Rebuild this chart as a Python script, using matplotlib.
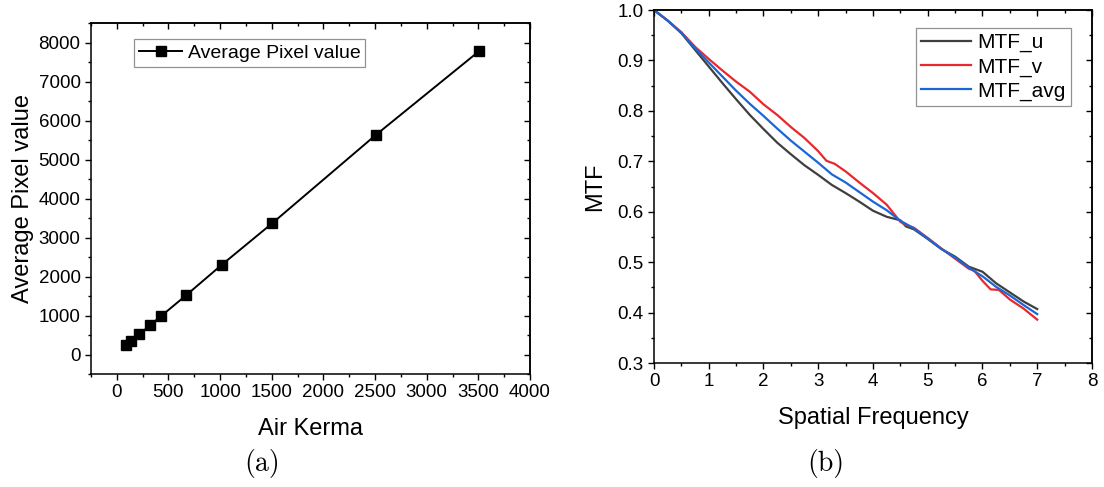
import matplotlib
matplotlib.use("Agg")
import matplotlib.pyplot as plt
from matplotlib.ticker import MultipleLocator, FormatStrFormatter

plt.rcParams['font.family'] = ['Liberation Sans', 'DejaVu Sans']

# ---------------- data (a) ----------------
air_kerma = [93, 141, 217, 320, 424, 671, 1015, 1505, 2505, 3505]
avg_pixel = [254, 346, 517, 746, 975, 1519, 2298, 3367, 5625, 7775]

# ---------------- data (b) ----------------
f_u = [0, 0.25, 0.5, 0.75, 1.0, 1.25, 1.5, 1.75, 2.0, 2.25, 2.5, 2.75, 3.0, 3.25,
       3.5, 3.75, 4.0, 4.25, 4.5, 4.6, 4.75, 5.0, 5.25, 5.5, 5.75, 6.0, 6.25, 6.5,
       6.75, 7.0]
mtf_u = [1.0, 0.979, 0.954, 0.921, 0.888, 0.855, 0.823, 0.792, 0.764, 0.737,
         0.714, 0.692, 0.673, 0.653, 0.637, 0.620, 0.602, 0.590, 0.583, 0.571,
         0.565, 0.546, 0.526, 0.511, 0.491, 0.481, 0.458, 0.440, 0.422, 0.407]

f_v = [0, 0.25, 0.5, 0.75, 1.0, 1.25, 1.5, 1.75, 2.0, 2.25, 2.5, 2.75, 3.0, 3.15,
       3.3, 3.5, 3.75, 4.0, 4.25, 4.5, 4.6, 4.75, 5.0, 5.25, 5.5, 5.75, 5.85, 6.0,
       6.15, 6.3, 6.5, 6.75, 7.0]
mtf_v = [1.0, 0.979, 0.956, 0.927, 0.903, 0.880, 0.858, 0.838, 0.813, 0.792,
         0.768, 0.746, 0.720, 0.701, 0.695, 0.680, 0.658, 0.637, 0.614, 0.580,
         0.574, 0.568, 0.548, 0.527, 0.507, 0.487, 0.483, 0.463, 0.446, 0.445,
         0.426, 0.408, 0.386]

f_avg = [0, 0.25, 0.5, 0.75, 1.0, 1.25, 1.5, 1.75, 2.0, 2.25, 2.5, 2.75, 3.0, 3.25,
         3.5, 3.75, 4.0, 4.25, 4.5, 4.75, 5.0, 5.25, 5.5, 5.75, 6.0, 6.25, 6.5,
         6.75, 7.0]
mtf_avg = [1.0, 0.979, 0.955, 0.924, 0.896, 0.868, 0.840, 0.814, 0.790, 0.765,
           0.741, 0.719, 0.697, 0.674, 0.658, 0.639, 0.620, 0.603, 0.582, 0.567,
           0.547, 0.526, 0.509, 0.489, 0.472, 0.451, 0.434, 0.415, 0.397]

TICK_FS = 13.5
LABEL_FS = 17
LEG_FS = 14

fig = plt.figure(figsize=(11.04, 4.87), dpi=100)


def style_axes(ax, xmaj, xmin, ymaj, ymin):
    for s in ax.spines.values():
        s.set_linewidth(1.1)
    ax.xaxis.set_major_locator(MultipleLocator(xmaj))
    ax.xaxis.set_minor_locator(MultipleLocator(xmin))
    ax.yaxis.set_major_locator(MultipleLocator(ymaj))
    ax.yaxis.set_minor_locator(MultipleLocator(ymin))
    ax.tick_params(which='major', direction='out', length=4.5, width=1.0,
                   labelsize=TICK_FS, pad=3)
    ax.tick_params(which='minor', direction='out', length=2.5, width=1.0)
    top = ax.secondary_xaxis('top')
    top.xaxis.set_major_locator(MultipleLocator(xmaj))
    top.xaxis.set_minor_locator(MultipleLocator(xmin))
    top.tick_params(which='major', direction='in', length=4.5, width=1.0,
                    labeltop=False)
    top.tick_params(which='minor', direction='in', length=2.5, width=1.0)
    top.spines['top'].set_linewidth(1.1)
    right = ax.secondary_yaxis('right')
    right.yaxis.set_major_locator(MultipleLocator(ymaj))
    right.yaxis.set_minor_locator(MultipleLocator(ymin))
    right.tick_params(which='major', direction='in', length=4.5, width=1.0,
                      labelright=False)
    right.tick_params(which='minor', direction='in', length=2.5, width=1.0)
    right.spines['right'].set_linewidth(1.1)


# ---------------- panel (a) ----------------
axa = fig.add_axes([0.0824, 0.232, 0.3977, 0.7207])
axa.plot(air_kerma, avg_pixel, color='black', lw=1.4, marker='s',
         markersize=6.5, label='Average Pixel value')
axa.set_xlim(-250, 4000)
axa.set_ylim(-500, 8500)
style_axes(axa, 500, 250, 1000, 500)
axa.set_xlabel('Air Kerma', fontsize=LABEL_FS, labelpad=12)
axa.set_ylabel('Average Pixel value', fontsize=LABEL_FS, labelpad=3)
leg = axa.legend(loc='upper left', bbox_to_anchor=(0.09, 0.965),
                 fontsize=LEG_FS, fancybox=False, edgecolor='#777777',
                 borderpad=0.25, handlelength=2.2, handletextpad=0.3,
                 borderaxespad=0.2)
leg.get_frame().set_linewidth(0.9)

# ---------------- panel (b) ----------------
axb = fig.add_axes([0.5924, 0.2546, 0.3967, 0.7248])
axb.plot(f_u, mtf_u, color='#3f3f3f', lw=1.6, label='MTF_u')
axb.plot(f_v, mtf_v, color='#e8282c', lw=1.6, label='MTF_v')
axb.plot(f_avg, mtf_avg, color='#1a66d6', lw=1.6, label='MTF_avg')
axb.set_xlim(0, 8)
axb.set_ylim(0.3, 1.0)
style_axes(axb, 1, 0.5, 0.1, 0.05)
axb.yaxis.set_major_formatter(FormatStrFormatter('%.1f'))
axb.set_xlabel('Spatial Frequency', fontsize=LABEL_FS, labelpad=12)
axb.set_ylabel('MTF', fontsize=LABEL_FS, labelpad=8)
legb = axb.legend(loc='upper right', bbox_to_anchor=(0.962, 0.962),
                  fontsize=15, fancybox=False, edgecolor='#777777',
                  borderpad=0.25, handlelength=2.4, handletextpad=0.3,
                  labelspacing=0.25, borderaxespad=0.2)
legb.get_frame().set_linewidth(0.9)

# ---------------- captions ----------------
fig.text(0.237, 0.049, '(a)', fontsize=20, family='cmr10', ha='center', va='center')
fig.text(0.748, 0.049, '(b)', fontsize=20, family='cmr10', ha='center', va='center')

fig.savefig('out.png', dpi=100)
